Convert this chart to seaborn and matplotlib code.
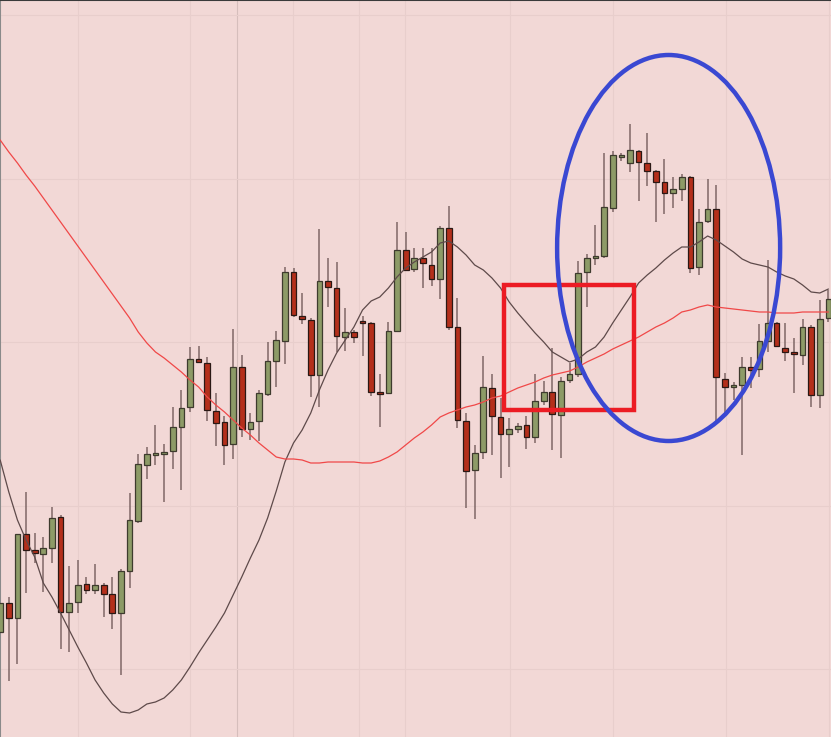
import numpy as np
import pandas as pd
import matplotlib
matplotlib.use("Agg")
import matplotlib.pyplot as plt
import seaborn as sns
from matplotlib.patches import Rectangle, Ellipse

# ---- data (price units) ----
opens = [105, 134, 119, 203, 187, 183, 189, 220, 125, 135,
         153, 147, 152, 143, 124, 166, 216, 272, 282, 283,
         286, 310, 330, 378, 374, 326, 315, 293, 370, 308,
         316, 343, 376, 396, 465, 421, 417, 362, 456, 449,
         400, 405, 416, 414, 345, 344, 406, 487, 468, 479,
         472, 458, 509, 410, 316, 267, 285, 349, 320, 303,
         308, 312, 300, 336, 345, 322, 357, 363, 465, 479,
         481, 529, 580, 574, 586, 574, 566, 555, 544, 548,
         560, 470, 516, 528, 358, 350, 352, 370, 368, 396,
         414, 389, 385, 382, 410, 342, 419]
closes = [134, 119, 203, 187, 184, 189, 219, 125, 134, 152,
          147, 152, 143, 124, 166, 217, 273, 283, 284, 285,
          310, 329, 378, 375, 327, 314, 292, 370, 308, 315,
          344, 376, 397, 465, 422, 418, 362, 456, 450, 401,
          405, 400, 414, 345, 343, 406, 487, 467, 479, 474,
          458, 509, 410, 317, 266, 284, 350, 321, 303, 308,
          311, 300, 336, 345, 323, 356, 363, 464, 479, 481,
          530, 582, 582, 587, 575, 566, 555, 544, 548, 560,
          469, 515, 528, 360, 350, 352, 370, 367, 396, 414,
          391, 385, 383, 410, 342, 418, 438]
highs = [139, 140, 203, 245, 204, 200, 230, 222, 171, 177,
         160, 173, 154, 160, 168, 244, 283, 290, 312, 293,
         330, 347, 390, 391, 380, 344, 321, 408, 382, 324,
         347, 395, 406, 470, 469, 444, 419, 508, 479, 475,
         429, 407, 421, 415, 363, 415, 515, 505, 489, 489,
         489, 511, 531, 439, 324, 292, 381, 363, 339, 319,
         314, 321, 363, 356, 389, 360, 374, 476, 483, 512,
         584, 586, 584, 613, 587, 604, 567, 578, 560, 563,
         561, 528, 558, 552, 364, 355, 380, 380, 413, 477,
         415, 414, 399, 418, 412, 437, 447]
lows = [97, 56, 73, 144, 174, 145, 174, 88, 85, 124,
        143, 143, 120, 108, 62, 149, 214, 258, 272, 235,
        268, 247, 325, 374, 316, 291, 272, 278, 300, 297,
        296, 341, 350, 373, 420, 413, 340, 330, 430, 385,
        386, 394, 381, 341, 310, 343, 405, 466, 465, 449,
        451, 438, 407, 309, 229, 218, 278, 282, 259, 270,
        304, 288, 294, 332, 287, 279, 354, 360, 430, 472,
        479, 525, 576, 565, 536, 551, 515, 523, 529, 536,
        464, 462, 514, 315, 322, 337, 282, 349, 360, 385,
        390, 376, 344, 372, 330, 329, 415]
ma_fast = [277, 245, 217, 197, 180, 154, 140, 124, 107, 90,
           74, 57, 44, 33, 25, 24, 27, 33, 35, 39,
           47, 57, 70, 84, 97, 110, 124, 142, 160, 179,
           197, 219, 246, 275, 294, 307, 324, 347, 367, 384,
           397, 410, 427, 436, 440, 449, 460, 469, 475, 480,
           485, 494, 496, 490, 482, 472, 467, 459, 449, 435,
           424, 414, 404, 395, 385, 380, 375, 378, 385, 390,
           400, 414, 427, 440, 454, 462, 469, 477, 484, 490,
           490, 495, 501, 497, 491, 485, 478, 474, 472, 470,
           465, 461, 458, 452, 445, 444, 448]
ma_slow = [597, 585, 574, 562, 551, 539, 527, 515, 503, 491,
           479, 467, 455, 443, 431, 419, 405, 394, 385, 379,
           372, 365, 357, 350, 340, 332, 325, 317, 309, 302,
           294, 287, 280, 278, 278, 277, 274, 274, 275, 275,
           275, 275, 274, 274, 276, 280, 285, 292, 299, 305,
           312, 320, 324, 327, 330, 332, 335, 339, 341, 345,
           349, 352, 355, 359, 362, 364, 366, 370, 375, 379,
           383, 388, 392, 396, 400, 405, 410, 414, 419, 425,
           427, 430, 432, 430, 429, 428, 427, 426, 425, 425,
           424, 424, 424, 425, 425, 425, 425]
grid_x = [9.04, 22.02, 27.47, 33.96, 41.61, 46.94, 59.11, 71.05, 84.14, 96.08]
grid_y = [68, 231.5, 395, 558.5, 722]

# annotation shapes (data units)
rect_x0, rect_x1, rect_y0, rect_y1 = 58.41, 73.48, 327, 452
ell_cx, ell_cy, ell_w, ell_h = 77.48, 489, 25.85, 386

n = len(opens)
df = pd.DataFrame({"idx": np.arange(n), "open": opens, "close": closes,
                   "high": highs, "low": lows, "ma_fast": ma_fast, "ma_slow": ma_slow})

sns.set_theme(style="white")
bg = "#f2d8d6"
fig = plt.figure(figsize=(8.31, 7.37), dpi=100)
ax = fig.add_axes([0, 0, 1, 1])
fig.patch.set_facecolor(bg)
ax.set_facecolor(bg)

for gx in grid_x:
    ax.axvline(gx, color="#d6bebc" if abs(gx - 27.47) < 0.1 else "#e8cecc", lw=0.8, zorder=0)
for gy in grid_y:
    ax.axhline(gy, color="#e8cecc", lw=0.8, zorder=0)

ax.vlines(df["idx"], df["low"], df["high"], color="#6e5656", lw=1.2, alpha=0.8, zorder=2)

up = df["close"] >= df["open"]
dn = ~up
ax.bar(df["idx"][up], (df["close"] - df["open"])[up], bottom=df["open"][up], width=0.66,
       color="#8d9b67", edgecolor="#3e3b2e", linewidth=0.9, zorder=3)
ax.bar(df["idx"][dn], (df["open"] - df["close"])[dn], bottom=df["close"][dn], width=0.66,
       color="#b42f1b", edgecolor="#2a1814", linewidth=0.9, zorder=3)

sns.lineplot(data=df, x="idx", y="ma_fast", color="#5e4a4a", lw=0.9, ax=ax, zorder=4)
sns.lineplot(data=df, x="idx", y="ma_slow", color="#f04848", lw=0.9, ax=ax, zorder=4)

ax.add_patch(Rectangle((rect_x0, rect_y0), rect_x1 - rect_x0, rect_y1 - rect_y0,
                       fill=False, edgecolor="#ec1c24", lw=3.2, zorder=5))
ax.add_patch(Ellipse((ell_cx, ell_cy), ell_w, ell_h, fill=False,
                     edgecolor="#3a48d2", lw=3.2, zorder=5))

ax.set_xlim(-0.02, 96.3)
ax.set_ylim(0, 737)
ax.set_xticks([])
ax.set_yticks([])
ax.set_xlabel("")
ax.set_ylabel("")
for s in ["right", "bottom"]:
    ax.spines[s].set_visible(False)
ax.spines["top"].set_color("#3a3a3a")
ax.spines["top"].set_linewidth(1.5)
ax.spines["left"].set_color("#8a8a8a")
ax.spines["left"].set_linewidth(1.5)

fig.savefig("out.png", dpi=100, facecolor=bg)
